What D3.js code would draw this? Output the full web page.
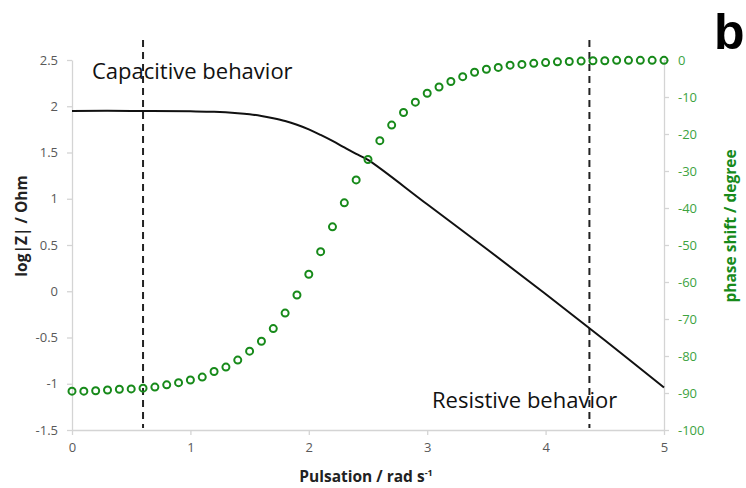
<!DOCTYPE html>
<html>
<head>
<meta charset="utf-8">
<script src="https://cdn.jsdelivr.net/npm/d3@7"></script>
<style>
  html, body { margin: 0; padding: 0; background: #fff; }
  svg { display: block; font-family: "Open Sans", Lato, sans-serif; }
</style>
</head>
<body>
<svg id="chart" width="746" height="488"></svg>
<script>
// Bode plot: impedance modulus (left axis) and phase shift (right axis) vs pulsation
const xTicks = [0, 1, 2, 3, 4, 5];
const leftTicks = [-1.5, -1, -0.5, 0, 0.5, 1, 1.5, 2, 2.5];
const rightTicks = [-100, -90, -80, -70, -60, -50, -40, -30, -20, -10, 0];

// log|Z| curve
const modulusX = [0, 0.5, 1.0, 1.2, 1.4, 1.5, 1.6, 1.7, 1.8, 1.9, 2.0, 2.1, 2.2, 2.3, 2.4, 2.5, 3.0, 3.5, 4.0, 4.5, 5.0];
const logZ = [1.95, 1.95, 1.945, 1.94, 1.925, 1.913, 1.895, 1.87, 1.84, 1.80, 1.75, 1.69, 1.625, 1.555, 1.485, 1.42, 0.94, 0.46, -0.03, -0.53, -1.04];

// phase shift samples
const pulsation = [0.0, 0.1, 0.2, 0.3, 0.4, 0.5, 0.6, 0.7, 0.8, 0.9,
                   1.0, 1.1, 1.2, 1.3, 1.4, 1.5, 1.6, 1.7, 1.8, 1.9,
                   2.0, 2.1, 2.2, 2.3, 2.4, 2.5, 2.6, 2.7, 2.8, 2.9,
                   3.0, 3.1, 3.2, 3.3, 3.4, 3.5, 3.6, 3.7, 3.8, 3.9,
                   4.0, 4.1, 4.2, 4.3, 4.4, 4.5, 4.6, 4.7, 4.8, 4.9, 5.0];
const phaseShift = [-89.5, -89.5, -89.4, -89.2, -89.0, -88.9, -88.7, -88.4, -87.8, -87.2,
                    -86.5, -85.7, -84.2, -83.0, -81.1, -78.7, -76.0, -72.6, -68.4, -63.5,
                    -57.9, -51.8, -45.1, -38.6, -32.4, -26.9, -21.8, -17.6, -14.2, -11.4,
                    -9.0, -7.3, -5.8, -4.5, -3.3, -2.5, -2.0, -1.4, -1.2, -0.9,
                    -0.7, -0.5, -0.4, -0.3, -0.2, -0.2, -0.1, -0.1, -0.1, -0.1, -0.1];

// regime boundaries
const regimeLines = [0.6, 4.37];

const margin = { left: 72, right: 82, top: 60, bottom: 58 };
const W = 746, H = 488;
const svg = d3.select("#chart");

const x = d3.scaleLinear().domain([0, 5]).range([margin.left, W - margin.right]);
const yL = d3.scaleLinear().domain([-1.5, 2.5]).range([H - margin.bottom, margin.top]);
const yR = d3.scaleLinear().domain([-100, 0]).range([H - margin.bottom, margin.top]);

const axisColor = "#d4d4d4";
const tickText = "#595959";
const green = "#178a1a";
const greenText = "#3da33f";
const font = "'Open Sans', Lato, sans-serif";

function styleAxis(g, color) {
  g.select(".domain").attr("stroke", axisColor).attr("stroke-width", 1.3);
  g.selectAll(".tick line").attr("stroke", axisColor).attr("stroke-width", 1.3);
  g.selectAll(".tick text").attr("fill", color).style("font-size", "13px")
    .style("font-family", font);
}

svg.append("g")
  .attr("transform", `translate(0,${H - margin.bottom})`)
  .call(d3.axisBottom(x).tickValues(xTicks).tickSize(5).tickSizeOuter(0).tickPadding(8).tickFormat(d3.format("d")))
  .call(g => styleAxis(g, tickText));

svg.append("g")
  .attr("transform", `translate(${margin.left},0)`)
  .call(d3.axisLeft(yL).tickValues(leftTicks).tickSize(5).tickSizeOuter(0).tickPadding(9).tickFormat(d => String(d)))
  .call(g => styleAxis(g, tickText));

svg.append("g")
  .attr("transform", `translate(${W - margin.right},0)`)
  .call(d3.axisRight(yR).tickValues(rightTicks).tickSize(5).tickSizeOuter(0).tickPadding(9).tickFormat(d => String(d)))
  .call(g => styleAxis(g, greenText));

// dashed regime separators
svg.append("g").selectAll("line")
  .data(regimeLines)
  .join("line")
  .attr("x1", d => x(d)).attr("x2", d => x(d))
  .attr("y1", 40).attr("y2", yL(-1.5) - 2)
  .attr("stroke", "#222").attr("stroke-width", 2)
  .attr("stroke-dasharray", "7,5");

// modulus curve
const line = d3.line()
  .x((d, i) => x(modulusX[i]))
  .y(d => yL(d))
  .curve(d3.curveCatmullRom.alpha(0.5));
svg.append("path")
  .datum(logZ)
  .attr("d", line)
  .attr("fill", "none")
  .attr("stroke", "#111")
  .attr("stroke-width", 2);

// phase markers
svg.append("g").selectAll("circle")
  .data(phaseShift)
  .join("circle")
  .attr("cx", (d, i) => x(pulsation[i]))
  .attr("cy", d => yR(d))
  .attr("r", 3.5)
  .attr("fill", "none")
  .attr("stroke", green)
  .attr("stroke-width", 2);

// annotations
svg.append("text").attr("x", 92).attr("y", 79)
  .style("font-size", "22px").attr("fill", "#111")
  .text("Capacitive behavior");
svg.append("text").attr("x", 432).attr("y", 408)
  .style("font-size", "22px").attr("fill", "#111")
  .text("Resistive behavior");
svg.append("text").attr("x", 714).attr("y", 49)
  .style("font-family", "'Liberation Sans', Arial, sans-serif")
  .style("font-size", "50px").style("font-weight", "bold").attr("fill", "#000")
  .text("b");

// axis titles
const xt = svg.append("text")
  .attr("x", 366).attr("y", 482)
  .attr("text-anchor", "middle")
  .style("font-size", "15.5px").style("font-weight", "bold").attr("fill", "#222");
xt.append("tspan").text("Pulsation / rad s");
xt.append("tspan").attr("dy", -6).style("font-size", "9px").text("-1");

svg.append("text")
  .attr("transform", "translate(27,226) rotate(-90)")
  .attr("text-anchor", "middle")
  .style("font-size", "15.5px").style("font-weight", "bold").attr("fill", "#222")
  .text("log|Z| / Ohm");

svg.append("text")
  .attr("transform", "translate(736,226) rotate(-90)")
  .attr("text-anchor", "middle")
  .style("font-size", "15.5px").style("font-weight", "bold").attr("fill", green)
  .text("phase shift / degree");
</script>
</body>
</html>
